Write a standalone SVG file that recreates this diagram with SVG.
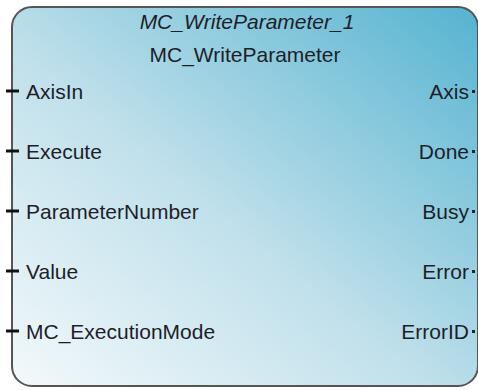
<svg xmlns="http://www.w3.org/2000/svg" width="478" height="390" viewBox="0 0 478 390">
  <defs>
    <linearGradient id="bg" x1="0" y1="1" x2="1" y2="0">
      <stop offset="0" stop-color="#f3f9fb"/>
      <stop offset="0.45" stop-color="#c0e0eb"/>
      <stop offset="1" stop-color="#55b3d0"/>
    </linearGradient>
  </defs>
  <style>
    .lbl { font-family: "Liberation Sans", Arial, sans-serif; font-size: 21px; fill: #1e1e2a; }
    .r { text-anchor: end; }
    .c { text-anchor: middle; }
    .in { stroke: #111; stroke-width: 3; }
    .out { fill: #222; }
  </style>
  <rect x="0" y="0" width="478" height="390" fill="#ffffff"/>
  <g id="block_MC_WriteParameter_1">
    <rect x="12" y="7" width="466" height="379" rx="20" ry="20" fill="url(#bg)" stroke="#555" stroke-width="2"/>
    <text class="lbl c" x="247" y="29" font-style="italic">MC_WriteParameter_1</text>
    <text class="lbl c" x="245" y="62">MC_WriteParameter</text>
    <g id="inputs">
      <text class="lbl" x="26" y="99">AxisIn</text>
      <text class="lbl" x="26" y="159">Execute</text>
      <text class="lbl" x="26" y="219">ParameterNumber</text>
      <text class="lbl" x="26" y="279">Value</text>
      <text class="lbl" x="26" y="339">MC_ExecutionMode</text>
    </g>
    <g id="outputs">
      <text class="lbl r" x="469" y="99">Axis</text>
      <text class="lbl r" x="469" y="159">Done</text>
      <text class="lbl r" x="469" y="219">Busy</text>
      <text class="lbl r" x="469" y="279">Error</text>
      <text class="lbl r" x="469" y="339">ErrorID</text>
    </g>
  </g>
  <g id="connectors">
    <line class="in" x1="6" y1="91" x2="19" y2="91"/>
    <line class="in" x1="6" y1="151" x2="19" y2="151"/>
    <line class="in" x1="6" y1="211" x2="19" y2="211"/>
    <line class="in" x1="6" y1="271" x2="19" y2="271"/>
    <line class="in" x1="6" y1="331" x2="19" y2="331"/>
    <rect class="out" x="472" y="90" width="3" height="3"/>
    <rect class="out" x="472" y="150" width="3" height="3"/>
    <rect class="out" x="472" y="210" width="3" height="3"/>
    <rect class="out" x="472" y="270" width="3" height="3"/>
    <rect class="out" x="472" y="330" width="3" height="3"/>
  </g>
</svg>
